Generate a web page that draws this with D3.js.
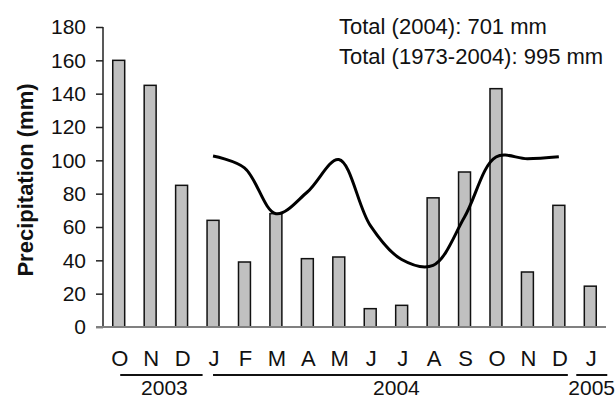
<!DOCTYPE html>
<html>
<head>
<meta charset="utf-8">
<script src="https://cdn.jsdelivr.net/npm/d3@7"></script>
<style>
  html, body { margin: 0; padding: 0; background: #fff; }
  svg { display: block; font-family: "Liberation Sans", Arial, Helvetica, sans-serif; }
</style>
</head>
<body>
<svg id="chart" width="616" height="400"></svg>
<script>
// ---- data ----
const months = ["O","N","D","J","F","M","A","M","J","J","A","S","O","N","D","J"];
const monthlyPrecip = [160, 145, 85, 64, 39, 68, 41, 42, 11, 13, 77.5, 93, 143, 33, 73, 24.5];
// long-term monthly mean (1973-2004), drawn at the Jan..Dec 2004 positions (indices 3..14)
const meanIdx = [3,4,5,6,7,8,9,10,11,12,13,14];
const meanPrecip = [102.6, 95.5, 68, 81, 100.5, 61, 40.5, 37, 66, 102, 101, 102.2];
const yTicks = [0, 20, 40, 60, 80, 100, 120, 140, 160, 180];
const yearLabels = ["2003", "2004", "2005"];
const yearFirst = [0, 3, 15];
const yearLast = [2, 14, 15];
const notes = ["Total (2004): 701 mm", "Total (1973-2004): 995 mm"];
const yTitle = "Precipitation (mm)";

// ---- layout ----
const L = 103, R = 606, T = 27, B = 327;
const svg = d3.select("#chart");
const ids = months.map((m, i) => i);

const x = d3.scaleBand().domain(ids).range([L, R]).paddingInner(0.62).paddingOuter(0.31);
const cx = i => x(i) + x.bandwidth() / 2;
const y = d3.scaleLinear().domain([0, 180]).range([B, T]);

// y axis
const yAxis = d3.axisLeft(y).tickValues(yTicks).tickSize(7).tickPadding(10);
const gy = svg.append("g").attr("transform", `translate(${L},0)`).call(yAxis);
gy.select(".domain").attr("stroke", "#222").attr("stroke-width", 1.5).attr("d", `M0,${T}V${B}`);
gy.selectAll(".tick line").attr("stroke", "#222").attr("stroke-width", 1.5);
gy.selectAll(".tick text").attr("font-size", 21).attr("fill", "#111")
  .attr("font-family", "Liberation Sans, Arial, sans-serif");

// bars
svg.append("g").selectAll("rect").data(monthlyPrecip).join("rect")
  .attr("x", (d, i) => x(i))
  .attr("y", d => y(d))
  .attr("width", x.bandwidth())
  .attr("height", d => y(0) - y(d))
  .attr("fill", "#c0c0c0")
  .attr("stroke", "#111")
  .attr("stroke-width", 1.5);

// x axis baseline
svg.append("line")
  .attr("x1", L - 7).attr("x2", R)
  .attr("y1", y(0)).attr("y2", y(0))
  .attr("stroke", "#808080").attr("stroke-width", 2);

// mean line
const line = d3.line()
  .x((d, i) => cx(meanIdx[i]))
  .y(d => y(d))
  .curve(d3.curveCatmullRom.alpha(0.5));
svg.append("path").datum(meanPrecip)
  .attr("d", line)
  .attr("fill", "none")
  .attr("stroke", "#000")
  .attr("stroke-width", 3)
  .attr("stroke-linejoin", "round");

// month labels
svg.append("g").selectAll("text").data(months).join("text")
  .attr("x", (d, i) => cx(i) + 1)
  .attr("y", 366)
  .attr("text-anchor", "middle")
  .attr("font-size", 22)
  .attr("fill", "#111")
  .text(d => d);

// year grouping lines & labels (offsets in px from first/last month centres)
const yearLineStartOff = [1.5, 0, -14];
const yearLineEndOff = [21, 9, 17];
const yearTextAnchor = ["middle", "middle", "start"];
const gYear = svg.append("g");
yearLabels.forEach((lab, k) => {
  const x1 = cx(yearFirst[k]) + yearLineStartOff[k];
  const x2 = cx(yearLast[k]) + yearLineEndOff[k];
  gYear.append("line")
    .attr("x1", x1).attr("x2", x2)
    .attr("y1", 375).attr("y2", 375)
    .attr("stroke", "#111").attr("stroke-width", 2);
  const tx = k === 2 ? x1 - 8 : (k === 0 ? (x1 + x2) / 2 + 3 : (x1 + x2) / 2 + 6);
  gYear.append("text")
    .attr("x", tx)
    .attr("y", 395)
    .attr("text-anchor", yearTextAnchor[k])
    .attr("font-size", 21)
    .attr("fill", "#111")
    .text(lab);
});

// notes
svg.append("g").selectAll("text").data(notes).join("text")
  .attr("x", 339)
  .attr("y", (d, i) => 34 + i * 30)
  .attr("font-size", 22)
  .attr("fill", "#111")
  .text(d => d);

// y title
svg.append("text")
  .attr("transform", `translate(33,180) rotate(-90)`)
  .attr("text-anchor", "middle")
  .attr("font-size", 22)
  .attr("font-weight", "bold")
  .attr("fill", "#111")
  .text(yTitle);
</script>
</body>
</html>
